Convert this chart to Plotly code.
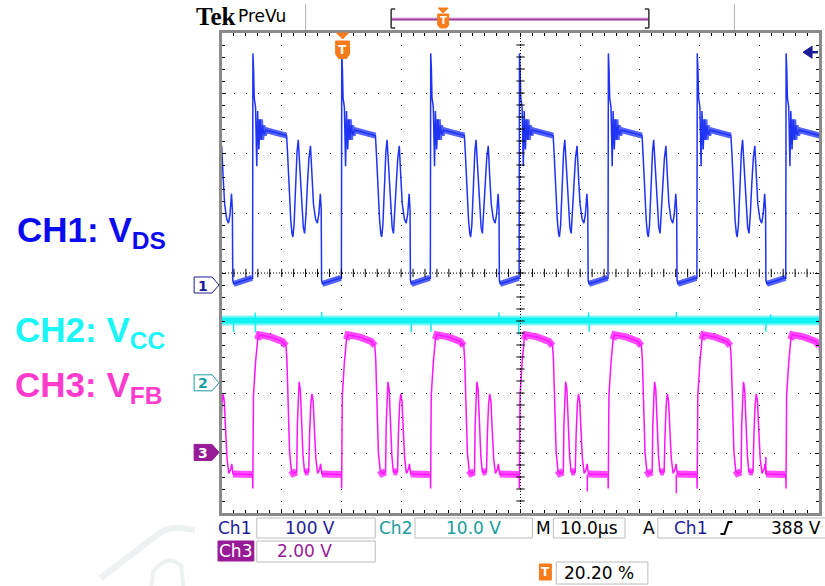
import plotly.graph_objects as go

# ---------------- acquisition settings ----------------
TIME_PER_DIV = 10.0          # µs/div, 10 horizontal divisions
CH1_SCALE = 100.0            # V/div
CH2_SCALE = 10.0             # V/div
CH3_SCALE = 2.0              # V/div
CH1_POS = -0.20              # ground reference of each channel, div from centre
CH2_POS = -1.83
CH3_POS = -2.99
TRIG_LEVEL = 388.0           # V on Ch1
TRIG_PCT = 20.20             # trigger position, % of record

# rising edges of V_DS, µs from the left edge of the record
cycle_starts = [-9.76, 5.12, 20.00, 34.90, 49.77, 64.66, 79.55, 94.43]

# one switching cycle of V_DS: µs after the rising edge, volts
vds_t = [0.00, 0.06, 0.17, 0.28, 0.50, 0.70, 0.85, 1.05, 1.25, 1.45, 1.65, 1.90,
         2.20, 3.50, 4.80, 5.70, 5.85, 6.00, 6.15, 6.40, 6.60, 6.75, 6.95, 7.20,
         7.45, 7.65, 7.90, 8.20, 8.50, 8.72, 8.95, 9.20, 9.45, 9.70, 9.95, 10.20,
         10.55, 10.85, 11.10, 11.35, 11.50, 11.56, 11.70, 13.00, 14.80]
vds_v = [10, 386, 360, 312, 296, 198, 290, 226, 276, 242, 266, 250,
         258, 255, 252, 249, 222, 188, 142, 108, 86, 80, 100, 165,
         222, 242, 192, 140, 96, 86, 118, 170, 212, 232, 180, 135,
         110, 103, 118, 152, 125, 8, 2, 6, 12]
# stretches of V_DS that carry visible noise (µs after the rising edge)
vds_noisy = [(1.20, 5.72), (11.70, 14.80)]

# V_FB over the same cycle: µs after the V_DS rising edge, volts
vfb_t = [0.00, 0.04, 0.15, 0.50, 0.85, 1.10, 3.00, 5.00, 5.60, 5.75, 5.95, 6.20,
         6.50, 6.80, 7.40, 7.50, 7.70, 7.80, 8.00, 8.20, 8.45, 8.70, 9.40, 9.55,
         9.75, 9.95, 10.15, 10.35, 10.60, 10.90, 11.25, 11.40, 11.60, 14.80]
vfb_v = [-0.74, -1.20, 1.90, 3.00, 3.76, 3.92, 3.85, 3.70, 3.55, 3.10, 1.40, 0.00,
         -0.60, -0.70, -0.65, 0.90, 1.90, 2.35, 2.10, 1.20, -0.10, -0.65, -0.65, 0.60,
         1.60, 1.95, 1.70, 0.80, -0.20, -0.70, -0.55, -0.38, -0.72, -0.74]
vfb_noisy = [(0.85, 5.60), (6.50, 7.40), (8.70, 9.40), (11.60, 14.80)]
vfb_low = -0.74
# isolated V_FB glitches: µs, volts
vfb_glitch_t = [61.2, 76.1, 91.1]
vfb_glitch_v = [-1.30, -1.36, -0.15]

# V_CC: steady supply with a few visible glitches
vcc_level = 10.38
vcc_glitch_t = [1.94, 5.55, 5.60, 16.7, 31.7, 35.0, 46.4, 49.7, 61.4, 61.5, 76.1, 91.1, 91.9]
vcc_glitch_v = [8.5, 11.7, 8.4, 11.8, 8.5, 8.5, 11.7, 8.0, 11.7, 8.5, 11.8, 8.5, 11.4]

# ---------------- page geometry (pixels) ----------------
W, H = 825, 586
L, R, T, B = 222, 822, 33, 513          # graticule box
T_END = 10 * TIME_PER_DIV


def fx(px):
    return (px - L) / (R - L)


def fy(py):
    return (B - py) / (B - T)


def cycles(ts, vs, pos, scale, window=None):
    xs, ys = [], []
    for s in cycle_starts:
        for t, v in zip(ts, vs):
            if window is None or window[0] <= t <= window[1]:
                xs.append(s + t)
                ys.append(pos + v / scale)
        if window is not None:
            xs.append(None)
            ys.append(None)
    return xs, ys


def spikes(ts, vs, base, pos, scale):
    xs, ys = [], []
    for t, v in zip(ts, vs):
        xs += [t, t, None]
        ys += [pos + base / scale, pos + v / scale, None]
    return xs, ys


BLUE = "#1f33f4"
CYAN = "#12f2f2"
MAGENTA = "#ff14ff"
NAVY = "#1c1c96"
TEAL = "#199d9d"
PURPLE = "#971a97"
ORANGE = "#f67c1c"

fig = go.Figure()

# ---- Ch1: V_DS ----
for w in vds_noisy:
    x, y = cycles(vds_t, vds_v, CH1_POS, CH1_SCALE, w)
    fig.add_trace(go.Scatter(x=x, y=y, mode="lines",
                             line=dict(color="rgba(40,60,245,0.8)", width=6)))
x, y = cycles(vds_t, vds_v, CH1_POS, CH1_SCALE)
fig.add_trace(go.Scatter(x=x, y=y, mode="lines", line=dict(color=BLUE, width=1.5)))

# ---- Ch2: V_CC ----
fig.add_trace(go.Scatter(x=[0, T_END], y=[CH2_POS + vcc_level / CH2_SCALE] * 2, mode="lines",
                         line=dict(color="rgba(20,240,240,0.55)", width=10)))
fig.add_trace(go.Scatter(x=[0, T_END], y=[CH2_POS + vcc_level / CH2_SCALE] * 2, mode="lines",
                         line=dict(color=CYAN, width=6)))
x, y = spikes(vcc_glitch_t, vcc_glitch_v, vcc_level, CH2_POS, CH2_SCALE)
fig.add_trace(go.Scatter(x=x, y=y, mode="lines", line=dict(color=CYAN, width=1.5)))

# ---- Ch3: V_FB ----
for w in vfb_noisy:
    x, y = cycles(vfb_t, vfb_v, CH3_POS, CH3_SCALE, w)
    fig.add_trace(go.Scatter(x=x, y=y, mode="lines",
                             line=dict(color="rgba(255,30,255,0.8)", width=7)))
x, y = cycles(vfb_t, vfb_v, CH3_POS, CH3_SCALE)
fig.add_trace(go.Scatter(x=x, y=y, mode="lines", line=dict(color=MAGENTA, width=1.5)))
x, y = spikes(vfb_glitch_t, vfb_glitch_v, vfb_low, CH3_POS, CH3_SCALE)
fig.add_trace(go.Scatter(x=x, y=y, mode="lines", line=dict(color=MAGENTA, width=1.5)))

# ---- centre cross-hair with minor ticks ----
minor_t = [i * TIME_PER_DIV / 5 for i in range(1, 50)]
minor_d = [i / 5 - 4 for i in range(1, 40)]
fig.add_trace(go.Scatter(x=minor_t, y=[0] * len(minor_t), mode="markers",
                         marker=dict(symbol="line-ns", size=6, line=dict(color="black", width=1))))
fig.add_trace(go.Scatter(x=[T_END / 2] * len(minor_d), y=minor_d, mode="markers",
                         marker=dict(symbol="line-ew", size=6, line=dict(color="black", width=1))))

shapes = [
    dict(type="line", xref="x", yref="y", x0=0, x1=T_END, y0=0, y1=0,
         line=dict(color="black", width=1, dash="1px,2px")),
    dict(type="line", xref="x", yref="y", x0=T_END / 2, x1=T_END / 2, y0=-4, y1=4,
         line=dict(color="black", width=1, dash="1px,2px")),
]
annotations = []


def poly(pts, fill, line_color, width=1, dash=None):
    path = "M " + " L ".join(f"{fx(px):.5f},{fy(py):.5f}" for px, py in pts) + " Z"
    ln = dict(color=line_color, width=width)
    if dash:
        ln["dash"] = dash
    return dict(type="path", xref="paper", yref="paper", path=path,
                fillcolor=fill, line=ln, layer="above")


def seg(x0, y0, x1, y1, color, width=1):
    return dict(type="line", xref="paper", yref="paper", x0=fx(x0), y0=fy(y0),
                x1=fx(x1), y1=fy(y1), line=dict(color=color, width=width), layer="above")


def rect(x0, y0, x1, y1, fill, line_color, width=1):
    return dict(type="rect", xref="paper", yref="paper", x0=fx(x0), y0=fy(y0),
                x1=fx(x1), y1=fy(y1), fillcolor=fill, line=dict(color=line_color, width=width),
                layer="above")


def text(s, px, py, color, size=16, family="DejaVu Sans", anchor="center", bold=False):
    if bold:
        s = f"<b>{s}</b>"
    annotations.append(dict(text=s, xref="paper", yref="paper", x=fx(px), y=fy(py),
                            xanchor=anchor, yanchor="middle", showarrow=False,
                            font=dict(family=family, size=size, color=color)))


# ---- channel ground markers ----
def ch_marker(label, ydiv, edge, fill, txt):
    py = (T + B) / 2 - ydiv * 60
    shapes.append(poly([(194, py - 8), (212, py - 8), (219, py), (212, py + 8), (194, py + 8)],
                       fill, edge, 1))
    text(label, 203, py + 0.5, txt, size=14, bold=True)


ch_marker("1", CH1_POS, NAVY, "white", NAVY)
ch_marker("2", CH2_POS, TEAL, "white", TEAL)
ch_marker("3", CH3_POS, PURPLE, PURPLE, "white")

# ---- trigger level arrow (right edge) ----
trig_py = (T + B) / 2 - (CH1_POS + TRIG_LEVEL / CH1_SCALE) * 60
shapes.append(poly([(806, trig_py), (815, trig_py - 6), (815, trig_py + 6)], NAVY, NAVY, 1))
shapes.append(seg(814, trig_py, 821, trig_py, NAVY, 2.5))

# ---- trigger position marker (top of graticule) ----
tx = L + (R - L) * TRIG_PCT / 100
shapes.append(poly([(tx - 6, 33), (tx + 6, 33), (tx, 39)], ORANGE, ORANGE, 1))
shapes.append(poly([(tx - 7, 41), (tx + 7, 41), (tx + 7, 54), (tx + 4, 58.5),
                    (tx - 4, 58.5), (tx - 7, 54)], ORANGE, ORANGE, 1))
text("T", tx, 49.5, "white", size=12, bold=True)

# ---- header ----
text("Tek", 194, 17, "black", size=25, family="Liberation Serif", anchor="left", bold=True)
text("PreVu", 236, 16, "black", size=17, anchor="left")
shapes.append(seg(306, 4, 306, 30, "#b4b4b4", 1))
shapes.append(seg(737, 4, 737, 30, "#b4b4b4", 1))
br0, br1 = 392, 651
shapes.append(seg(br0, 18, br1, 18, "#d9a6d9", 1))
shapes.append(seg(br0, 19.5, br1, 19.5, "#9d3a9d", 2))
for bx, d in ((br0, 1), (br1, -1)):
    shapes.append(seg(bx, 9, bx, 28, "#303030", 1.5))
    shapes.append(seg(bx, 9, bx + 4 * d, 9, "#303030", 1.5))
    shapes.append(seg(bx, 28, bx + 4 * d, 28, "#303030", 1.5))
hx = br0 + (br1 - br0) * TRIG_PCT / 100
shapes.append(poly([(hx - 5, 8), (hx + 5, 8), (hx, 13)], ORANGE, ORANGE, 1))
shapes.append(poly([(hx - 5.5, 14), (hx + 5.5, 14), (hx + 5.5, 25), (hx + 3, 28),
                    (hx - 3, 28), (hx - 5.5, 25)], ORANGE, ORANGE, 1))
text("T", hx, 20.5, "white", size=10, bold=True)

# ---- status bar ----
BOX = "#bdbdbd"
shapes += [rect(257, 518, 376, 538, "white", BOX), rect(416, 518, 534, 538, "white", BOX),
           rect(555, 518, 627, 538, "white", BOX), rect(660, 518, 830, 538, "white", BOX),
           rect(257, 541, 376, 562, "white", BOX), rect(558, 562, 650, 584, "white", BOX),
           rect(218, 541, 254, 561, PURPLE, PURPLE),
           rect(541, 564, 553, 580, ORANGE, ORANGE)]
text("Ch1", 235, 528, NAVY, size=17)
text(f"{CH1_SCALE:.0f} V", 310, 528, NAVY, size=17)
text("Ch2", 396, 528, TEAL, size=17)
text(f"{CH2_SCALE:.1f} V", 475, 528, TEAL, size=17)
text("M", 545, 528, "black", size=17)
text(f"{TIME_PER_DIV:.1f}µs", 591, 528, "black", size=17)
text("A", 651, 528, "black", size=17)
text("Ch1", 693, 528, NAVY, size=17)
shapes.append(dict(type="path", xref="paper", yref="paper",
                   path=f"M {fx(723):.5f},{fy(534):.5f} L {fx(727):.5f},{fy(534):.5f} "
                        f"L {fx(731):.5f},{fy(522):.5f} L {fx(735):.5f},{fy(522):.5f}",
                   line=dict(color="black", width=2), layer="above"))
text(f"{TRIG_LEVEL:.0f} V", 799, 528, "black", size=17)
text("Ch3", 236, 551, "white", size=17)
text(f"{CH3_SCALE:.2f} V", 305, 551, PURPLE, size=17)
text("T", 547, 572, "white", size=12, bold=True)
text(f"{TRIG_PCT:.2f} %", 601, 573, "black", size=17)

# ---- channel captions ----
text("CH1: V<sub>DS</sub>", 14, 232, "#0a0af0", size=35, family="Liberation Sans", anchor="left", bold=True)
text("CH2: V<sub>CC</sub>", 12, 332, "#1af5f5", size=35, family="Liberation Sans", anchor="left", bold=True)
text("CH3: V<sub>FB</sub>", 12, 387, "#ff3ccd", size=35, family="Liberation Sans", anchor="left", bold=True)

# ---- faint logo mark, lower left ----
shapes.append(dict(type="path", xref="paper", yref="paper",
                   path=f"M {fx(100):.5f},{fy(578):.5f} L {fx(158):.5f},{fy(534):.5f} "
                        f"Q {fx(168):.5f},{fy(527):.5f} {fx(180):.5f},{fy(528):.5f} "
                        f"L {fx(195):.5f},{fy(530):.5f}",
                   line=dict(color="#eef1f2", width=6), layer="below"))
shapes.append(dict(type="path", xref="paper", yref="paper",
                   path=f"M {fx(151):.5f},{fy(586):.5f} L {fx(153):.5f},{fy(571):.5f} "
                        f"Q {fx(168):.5f},{fy(553):.5f} {fx(181):.5f},{fy(566):.5f} "
                        f"L {fx(183):.5f},{fy(586):.5f}",
                   line=dict(color="#eef1f2", width=4), layer="below"))

axis_common = dict(showticklabels=False, zeroline=False, showline=True, linewidth=3,
                   linecolor="#8a8a8a", mirror="allticks", ticks="inside", ticklen=4,
                   tickcolor="black", tickwidth=1, showgrid=True, gridcolor="black",
                   gridwidth=1, griddash="1px,11px", fixedrange=True)

fig.update_layout(
    width=W, height=H,
    margin=dict(l=L, r=W - R, t=T, b=H - B, pad=0),
    paper_bgcolor="white", plot_bgcolor="white",
    showlegend=False, hovermode=False,
    xaxis=dict(range=[0, T_END], dtick=TIME_PER_DIV,
               minor=dict(dtick=TIME_PER_DIV / 5, ticks="inside", ticklen=3,
                          tickcolor="black", showgrid=False),
               **axis_common),
    yaxis=dict(range=[-4, 4], dtick=1,
               minor=dict(dtick=0.2, ticks="inside", ticklen=3,
                          tickcolor="black", showgrid=False),
               **axis_common),
    shapes=shapes,
    annotations=annotations,
)

fig.write_html("out.html")
